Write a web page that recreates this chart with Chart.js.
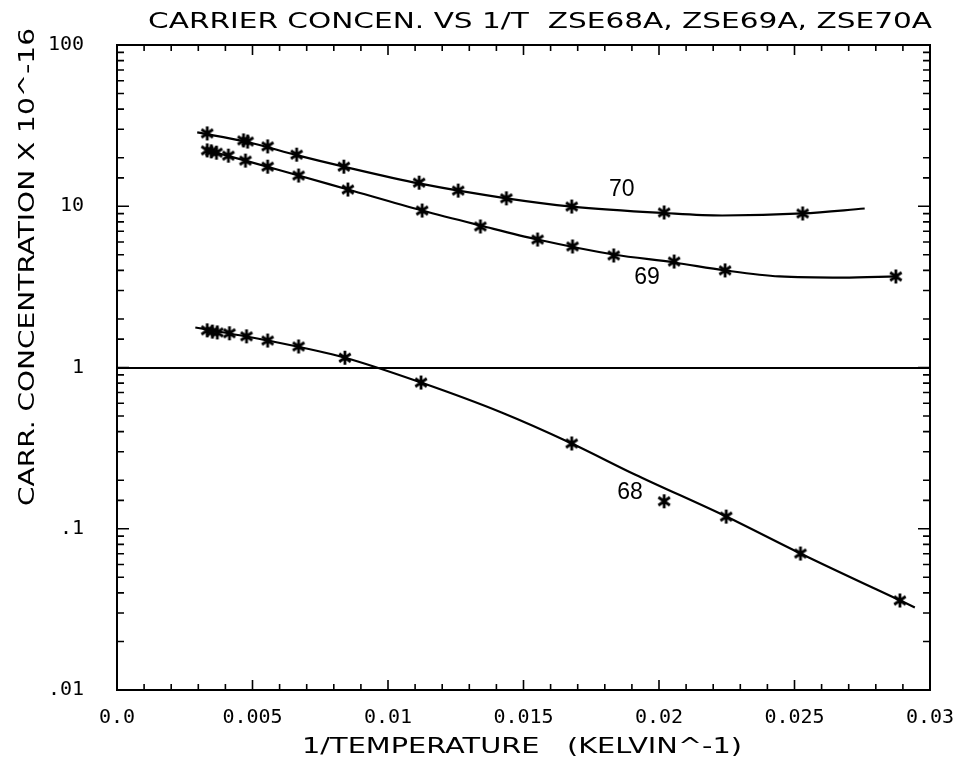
<!DOCTYPE html>
<html>
<head>
<meta charset="utf-8">
<script src="https://cdn.jsdelivr.net/npm/chart.js@4/dist/chart.umd.min.js"></script>
<style>
    html, body { margin: 0; padding: 0; background: #fff; }
    canvas { display: block; }
</style>
</head>
<body>
<canvas id="chart" width="966" height="763"></canvas>
<script>
// measured points (1/T, carrier conc. x 1e-16)
const x70 = [0.00333, 0.00467, 0.00482, 0.00556, 0.00663, 0.00837, 0.01115, 0.01259, 0.01437, 0.01678, 0.02019, 0.0253];
const y70 = [28.3, 25.6, 25.2, 23.5, 20.9, 17.6, 14.0, 12.5, 11.2, 9.96, 9.15, 9.02];
const x69 = [0.00333, 0.00348, 0.00367, 0.00411, 0.00474, 0.00556, 0.0067, 0.00852, 0.01126, 0.01341, 0.01552, 0.01681, 0.01833, 0.02056, 0.02244, 0.02874];
const y69 = [22.2, 21.9, 21.5, 20.6, 19.2, 17.6, 15.5, 12.7, 9.41, 7.49, 6.22, 5.63, 4.95, 4.54, 4.0, 3.67];
const x68 = [0.00333, 0.00352, 0.0037, 0.00415, 0.00478, 0.00556, 0.0067, 0.00841, 0.01122, 0.01678, 0.02019, 0.02248, 0.02522, 0.02889];
const y68 = [1.70, 1.67, 1.65, 1.63, 1.56, 1.47, 1.35, 1.15, 0.807, 0.338, 0.148, 0.119, 0.0702, 0.0359];

// fitted curves
const fitX70 = [0.00296, 0.00474, 0.0067, 0.00837, 0.01119, 0.01437, 0.01678, 0.02019, 0.02233, 0.0253, 0.02759];
const fitY70 = [28.7, 25.2, 20.6, 17.6, 13.8, 11.2, 9.96, 9.08, 8.76, 9.02, 9.68];
const fitX69 = [0.00333, 0.00474, 0.0067, 0.00852, 0.01126, 0.01341, 0.01552, 0.01833, 0.02056, 0.02244, 0.02444, 0.02678, 0.02874];
const fitY69 = [22.2, 19.2, 15.5, 12.7, 9.41, 7.60, 6.22, 5.02, 4.48, 4.0, 3.67, 3.61, 3.67];
const fitX68 = [0.00289, 0.00556, 0.00841, 0.01122, 0.01419, 0.01678, 0.01911, 0.02248, 0.02522, 0.02944];
const fitY68 = [1.77, 1.47, 1.15, 0.807, 0.526, 0.338, 0.217, 0.119, 0.0702, 0.0325];

// curve labels
const curveNames = ['70', '69', '68'];
const curveLabelX = [0.01863, 0.01956, 0.01893];
const curveLabelY = [12.7, 3.61, 0.168];

const xTickLabels = ['0.0', '0.005', '0.01', '0.015', '0.02', '0.025', '0.03'];
const yTickLabels = { '-2': '.01', '-1': '.1', '0': '1', '1': '10', '2': '100' };

const chartTitle = 'CARRIER CONCEN. VS 1/T  ZSE68A, ZSE69A, ZSE70A';
const xTitle = '1/TEMPERATURE   (KELVIN^-1)';
const yTitle = 'CARR. CONCENTRATION X 10^-16';

function toPoints(xs, ys) {
    return xs.map((x, i) => ({ x: x, y: ys[i] }));
}

function makeStar(size, lw) {
    let c = document.createElement('canvas');
    c.width = size;
    c.height = size;
    let g = c.getContext('2d');
    let m = size / 2;
    let r = size / 2 - 1;
    g.strokeStyle = '#000';
    g.lineWidth = lw;
    g.beginPath();
    g.moveTo(m, m - r);
    g.lineTo(m, m + r);
    let a = 35 * Math.PI / 180;
    g.moveTo(m - r * Math.cos(a), m - r * Math.sin(a));
    g.lineTo(m + r * Math.cos(a), m + r * Math.sin(a));
    g.moveTo(m - r * Math.cos(a), m + r * Math.sin(a));
    g.lineTo(m + r * Math.cos(a), m - r * Math.sin(a));
    g.stroke();
    return c;
}

const star = makeStar(16, 2.8);

function markerSet(xs, ys) {
    return {
        data: toPoints(xs, ys),
        showLine: false,
        pointStyle: star,
        pointRadius: 7,
        borderColor: '#000',
        backgroundColor: '#000'
    };
}

function curveSet(xs, ys) {
    return {
        data: toPoints(xs, ys),
        showLine: true,
        pointRadius: 0,
        borderColor: '#000',
        borderWidth: 2.2,
        tension: 0.4,
        cubicInterpolationMode: 'monotone'
    };
}

function drawStretched(ctx, text, cx, cy, width, rotate) {
    ctx.save();
    ctx.font = '22px "DejaVu Sans"';
    ctx.fillStyle = '#000';
    ctx.textAlign = 'center';
    ctx.textBaseline = 'middle';
    let w = ctx.measureText(text).width;
    ctx.translate(cx, cy);
    if (rotate) {
        ctx.rotate(-Math.PI / 2);
    }
    ctx.scale(width / w, 1);
    ctx.fillText(text, 0, 0);
    ctx.restore();
}

const framePlugin = {
    id: 'frame',
    afterDraw(chart) {
        let ctx = chart.ctx;
        let area = chart.chartArea;
        let xs = chart.scales.x;
        let ys = chart.scales.y;
        ctx.save();
        ctx.strokeStyle = '#000';
        ctx.lineWidth = 2;
        ctx.strokeRect(area.left, area.top, area.right - area.left, area.bottom - area.top);

        // inward ticks on all four sides
        ctx.lineWidth = 1.6;
        ctx.beginPath();
        xs.ticks.forEach(t => {
            let px = xs.getPixelForValue(t.value);
            let major = Math.round(t.value * 1000) % 5 === 0;
            let len = major ? 10 : 6;
            ctx.moveTo(px, area.bottom);
            ctx.lineTo(px, area.bottom - len);
            ctx.moveTo(px, area.top);
            ctx.lineTo(px, area.top + len);
        });
        ys.ticks.forEach(t => {
            let py = ys.getPixelForValue(t.value);
            let lg = Math.log10(t.value);
            let major = Math.abs(lg - Math.round(lg)) < 1e-6;
            let len = major ? 12 : 7;
            ctx.moveTo(area.left, py);
            ctx.lineTo(area.left + len, py);
            ctx.moveTo(area.right, py);
            ctx.lineTo(area.right - len, py);
        });
        ctx.stroke();

        // curve names
        ctx.font = '23px "Liberation Sans"';
        ctx.fillStyle = '#000';
        ctx.textAlign = 'center';
        ctx.textBaseline = 'middle';
        curveNames.forEach((name, i) => {
            ctx.fillText(name, xs.getPixelForValue(curveLabelX[i]), ys.getPixelForValue(curveLabelY[i]));
        });
        ctx.restore();

        drawStretched(ctx, chartTitle, 540, 22, 784, false);
        drawStretched(ctx, xTitle, 522, 747, 440, false);
        drawStretched(ctx, yTitle, 28, 267, 478, true);
    }
};

const tickFont = { family: 'DejaVu Sans Mono', size: 20 };

new Chart(document.getElementById('chart'), {
    type: 'scatter',
    data: {
        datasets: [
            curveSet(fitX70, fitY70),
            curveSet(fitX69, fitY69),
            curveSet(fitX68, fitY68),
            markerSet(x70, y70),
            markerSet(x69, y69),
            markerSet(x68, y68)
        ]
    },
    options: {
        responsive: false,
        animation: false,
        layout: {
            padding: { top: 45, right: 36, left: 0, bottom: 0 }
        },
        plugins: {
            legend: { display: false },
            tooltip: { enabled: false },
            title: { display: false }
        },
        scales: {
            x: {
                type: 'linear',
                min: 0,
                max: 0.03,
                afterFit: s => { s.height = 73; },
                grid: { display: false },
                border: { display: false },
                ticks: {
                    stepSize: 0.001,
                    autoSkip: false,
                    maxRotation: 0,
                    padding: 8,
                    color: '#000',
                    font: tickFont,
                    callback: v => {
                        let k = Math.round(v * 1000);
                        return k % 5 === 0 ? xTickLabels[k / 5] : '';
                    }
                }
            },
            y: {
                type: 'logarithmic',
                min: 0.01,
                max: 100,
                afterFit: s => { s.width = 117; },
                grid: {
                    drawTicks: false,
                    lineWidth: 2,
                    color: c => (c.tick && Math.abs(c.tick.value - 1) < 1e-9) ? '#000' : 'rgba(0,0,0,0)'
                },
                border: { display: false },
                ticks: {
                    autoSkip: false,
                    padding: 33,
                    color: '#000',
                    font: tickFont,
                    callback: v => {
                        let lg = Math.log10(v);
                        if (Math.abs(lg - Math.round(lg)) > 1e-6) {
                            return '';
                        }
                        return yTickLabels[String(Math.round(lg))];
                    }
                }
            }
        }
    },
    plugins: [framePlugin]
});
</script>
</body>
</html>
